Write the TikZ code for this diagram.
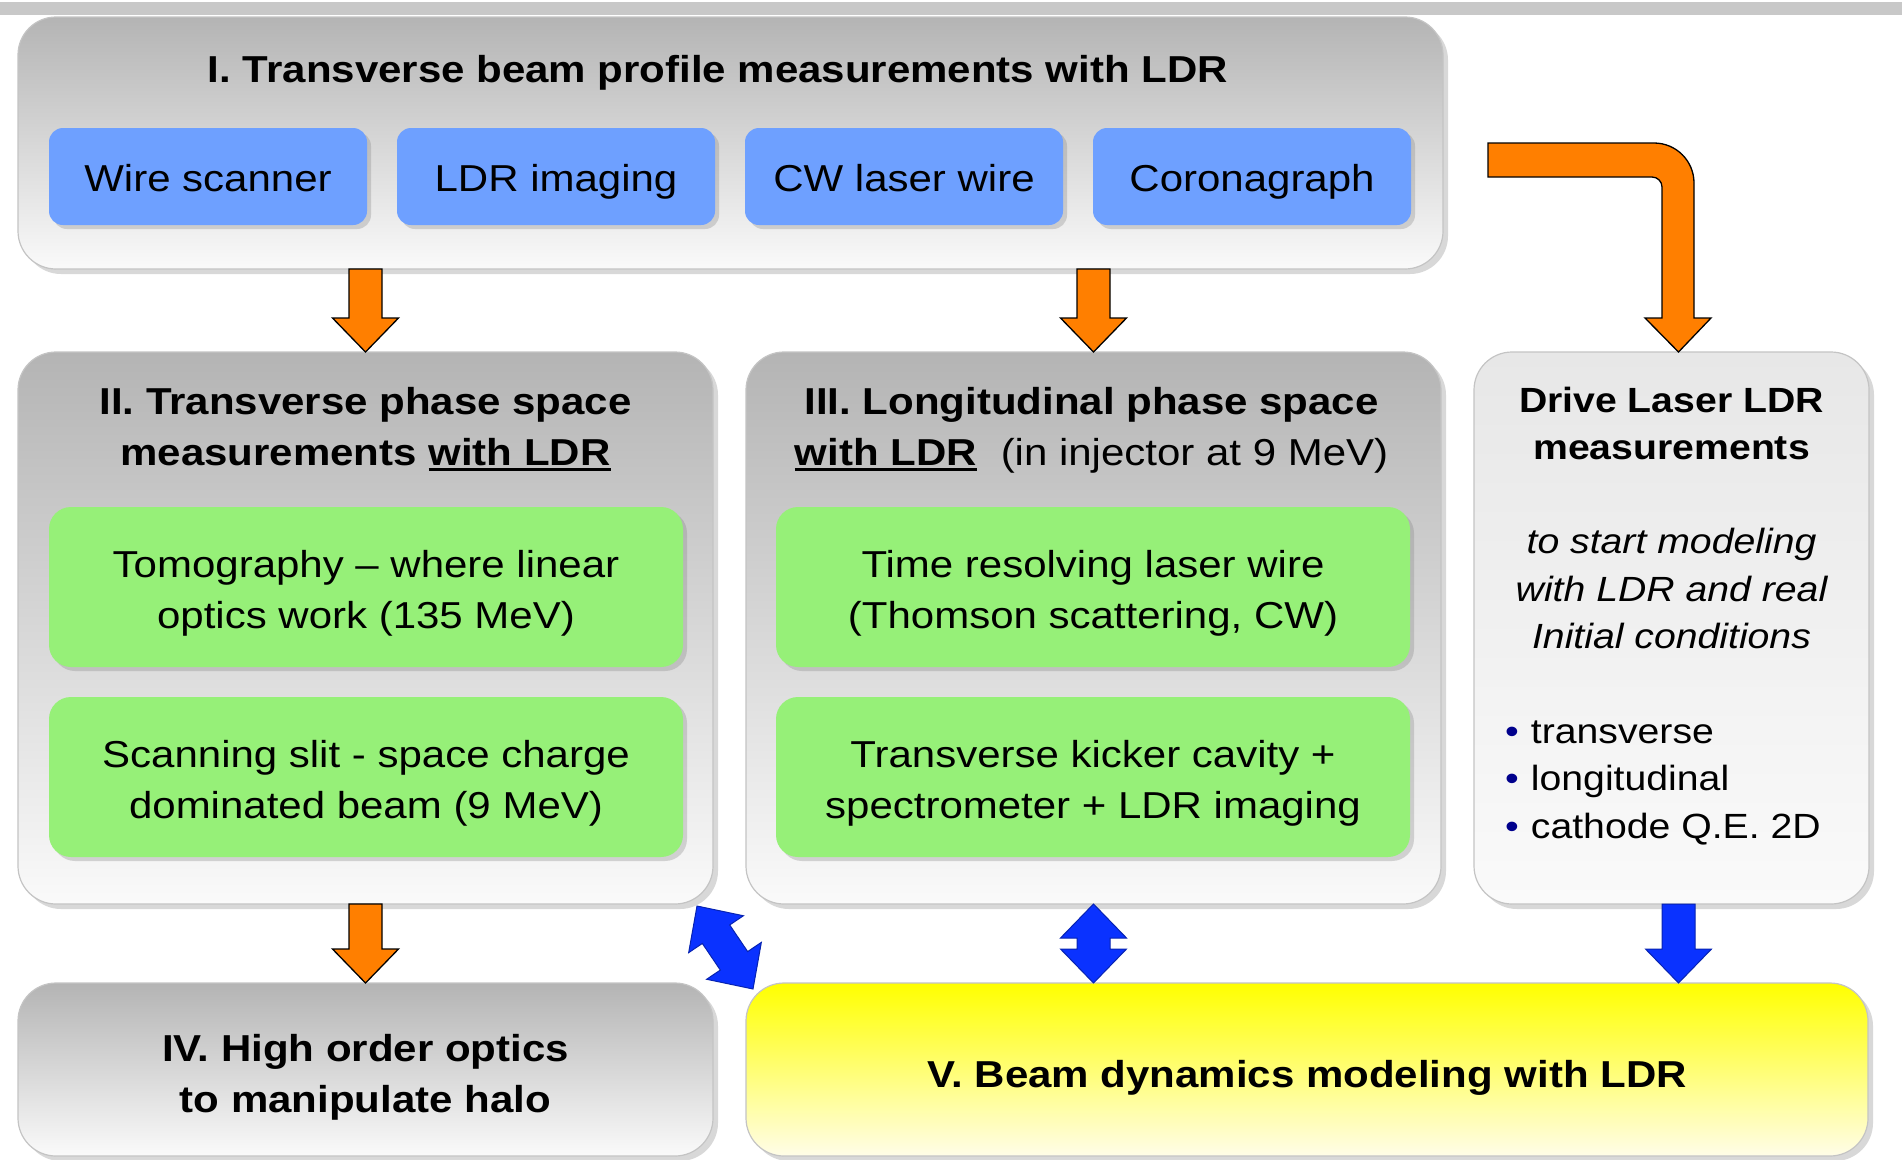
\documentclass[tikz,border=0pt]{standalone}
\usepackage{fontspec}
\setmainfont{Liberation Sans}[FakeStretch=1.12]
\usetikzlibrary{calc,shadows}

\definecolor{boxtop}{RGB}{180,180,180}
\definecolor{boxbot}{RGB}{250,250,250}
\definecolor{drivetop}{RGB}{231,231,231}
\definecolor{boxline}{RGB}{196,196,196}
\definecolor{topbar}{RGB}{200,200,200}
\definecolor{methblue}{RGB}{110,160,255}
\definecolor{methgreen}{RGB}{150,240,120}
\definecolor{arrorange}{RGB}{255,127,0}
\definecolor{arrblue}{RGB}{10,50,255}
\definecolor{bulletblue}{RGB}{0,0,140}
\definecolor{yellowbot}{RGB}{255,253,232}

\newcommand\slidefont{\fontsize{37.5}{51}\selectfont}
\newcommand\drivefont{\fontsize{35}{47.5}\selectfont}
\newcommand\ldrline[1]{\setbox0\hbox{#1}\rlap{\rule[-6pt]{\wd0}{3pt}}\box0}

% block arrow: style, tail, tip
\newcommand\blockarrow[3]{%
  \path ($(#3)!34pt!(#2)$) coordinate (ba-h);
  \draw[#1] ($(#2)!16.5pt!90:(#3)$) -- ($(ba-h)!16.5pt!90:(#3)$) -- ($(ba-h)!33pt!90:(#3)$)
    -- (#3) -- ($(ba-h)!33pt!-90:(#3)$) -- ($(ba-h)!16.5pt!-90:(#3)$) -- ($(#2)!16.5pt!-90:(#3)$) -- cycle;
}
% double block arrow: style, one end, other end
\newcommand\dblarrow[3]{%
  \path ($(#2)!34pt!(#3)$) coordinate (da-a) ($(#3)!34pt!(#2)$) coordinate (da-b);
  \draw[#1] (#2) -- ($(da-a)!33pt!90:(#3)$) -- ($(da-a)!16.5pt!90:(#3)$) -- ($(da-b)!16.5pt!90:(#3)$)
    -- ($(da-b)!33pt!90:(#3)$) -- (#3) -- ($(da-b)!33pt!-90:(#3)$) -- ($(da-b)!16.5pt!-90:(#3)$)
    -- ($(da-a)!16.5pt!-90:(#3)$) -- ($(da-a)!33pt!-90:(#3)$) -- cycle;
}

\begin{document}
\begin{tikzpicture}[x=1pt, y=-1pt,
    graybox/.style={draw=boxline, line width=1.2pt, rounded corners=38pt, top color=boxtop, bottom color=boxbot,
        anchor=north west, inner sep=0pt, outer sep=0pt,
        drop shadow={shadow xshift=5pt, shadow yshift=-5pt, opacity=0.3}},
    bluebox/.style={fill=methblue, rounded corners=14pt, anchor=north west, minimum width=318pt, minimum height=97pt,
        inner sep=0pt, outer sep=0pt, font=\slidefont, text height=30pt, text depth=0pt,
        drop shadow={shadow xshift=4pt, shadow yshift=-4pt, opacity=0.3}},
    greenbox/.style={fill=methgreen, rounded corners=22pt, anchor=north west, minimum width=634pt, minimum height=160pt,
        inner sep=0pt, outer sep=0pt, drop shadow={shadow xshift=4pt, shadow yshift=-4pt, opacity=0.3}},
    title/.style={font=\bfseries\slidefont, anchor=base, align=center, inner sep=0pt},
    body/.style={font=\slidefont, anchor=base, align=center, inner sep=0pt},
    orangearrow/.style={fill=arrorange, draw=black, line width=1.3pt},
    bluearrow/.style={fill=arrblue, draw=arrblue!70!black, line width=1pt}]

    \fill[white] (0,0) rectangle (1902,1159);
    \useasboundingbox (0,0) rectangle (1902,1159);
    \fill[topbar] (0,2) rectangle (1902,15);

    % Frames
    \node[graybox, minimum width=1425pt, minimum height=252pt] (prof) at (18,17) {};
    \node[graybox, minimum width=695pt, minimum height=552pt] (trans) at (18,352) {};
    \node[graybox, minimum width=695pt, minimum height=552pt] (longi) at (746,352) {};
    \node[graybox, top color=drivetop, minimum width=395pt, minimum height=552pt] (drive) at (1474,352) {};
    \node[graybox, minimum width=695pt, minimum height=173pt] (halo) at (18,983) {};
    \node[graybox, top color=yellow, bottom color=yellowbot, minimum width=1122pt, minimum height=173pt] (model) at (746,983) {};

    % I. profile measurements
    \node[title] (profT) at (718,82) {I. Transverse beam profile measurements with LDR};
    \foreach \x/\nm/\lbl in {49/ws/Wire scanner, 397/ldri/LDR imaging, 745/cwlw/CW laser wire, 1093/coro/Coronagraph}
        \node[bluebox] (\nm) at (\x,128) {\lbl};

    % II. and III. phase space (base = last line)
    \node[title] (transT) at ($(trans.north)+(0,113)$) {II. Transverse phase space\\measurements \ldrline{with LDR}};
    \node[title] (longiT) at ($(longi.north)+(-2,113)$) {III. Longitudinal phase space\\\ldrline{with LDR}\hspace{24pt}\mdseries(in injector at 9 MeV)};
    \node[greenbox] (tomo) at (49,507) {};
    \node[greenbox] (slit) at (49,697) {};
    \node[greenbox] (tlw) at (776,507) {};
    \node[greenbox] (kick) at (776,697) {};
    \foreach \nm/\txt in {tomo/{Tomography -- where linear\\optics work (135 MeV)},
                          slit/{Scanning slit - space charge\\dominated beam (9 MeV)},
                          tlw/{Time resolving laser wire\\(Thomson scattering, CW)},
                          kick/{Transverse kicker cavity +\\spectrometer + LDR imaging}}
        \node[body] (\nm-t) at ($(\nm.north)+(0,121.5)$) {\txt};

    % Drive laser
    \node[title, font=\bfseries\drivefont] (driveT) at ($(drive.north)+(0,107.5)$) {Drive Laser LDR\\measurements};
    \node[body, font=\itshape\drivefont] (driveI) at ($(drive.north)+(0,296.5)$) {to start modeling\\with LDR and real\\Initial conditions};
    \node[body, font=\drivefont, align=left, anchor=base west] (driveL) at (1505,838)
        {{\color{bulletblue}•}\hspace{12pt}transverse\\{\color{bulletblue}•}\hspace{12pt}longitudinal\\{\color{bulletblue}•}\hspace{12pt}cathode Q.E. 2D};

    % IV. and V.
    \node[title] (haloT) at ($(halo.north)+(0,129)$) {IV. High order optics\\to manipulate halo};
    \node[title] (modelT) at ($(model.north)+(0,104)$) {V. Beam dynamics modeling with LDR};

    % Orange arrows
    \coordinate (a1) at (prof.south -| trans.north);
    \coordinate (a2) at (prof.south -| longi.north);
    \coordinate (dtop) at ($(drive.north)+(7,0)$);
    \blockarrow{orangearrow}{a1}{trans.north}
    \blockarrow{orangearrow}{a2}{longi.north}
    \blockarrow{orangearrow}{trans.south}{halo.north}
    \draw[orangearrow] (1488,143) -- (1654,143) arc[start angle=-90, end angle=0, radius=40] -- (1694,318) -- (1711,318)
        -- (dtop) -- (1645,318) -- (1662,318) -- (1662,187) arc[start angle=0, end angle=-90, radius=10] -- (1488,177) -- cycle;

    % Blue arrows
    \coordinate (dbot) at ($(drive.south)+(7,0)$);
    \coordinate (dmod) at (dbot |- model.north);
    \coordinate (lmod) at (longi.south |- model.north);
    \coordinate (dg1) at ($(trans.south east)+(-16,2)$);
    \coordinate (dg2) at ($(model.north west)+(7,6)$);
    \blockarrow{bluearrow}{dbot}{dmod}
    \dblarrow{bluearrow}{longi.south}{lmod}
    \dblarrow{bluearrow}{dg1}{dg2}
\end{tikzpicture}
\end{document}
